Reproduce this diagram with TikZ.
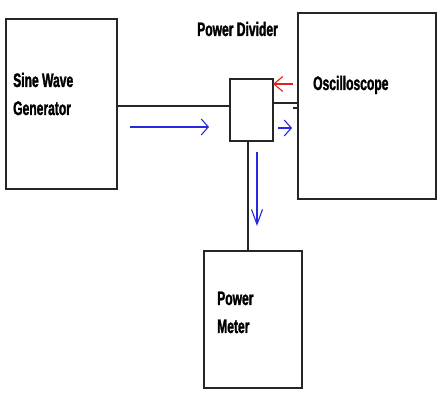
\documentclass[tikz,border=0pt]{standalone}
\usepackage{fontspec}
\setmainfont{Liberation Sans}
\newfontfamily\labfont[FakeStretch=0.62,FakeBold=1.5]{Liberation Sans Bold}
\usetikzlibrary{arrows.meta}
\definecolor{arrblue}{RGB}{40,40,225}
\definecolor{arrred}{RGB}{235,30,30}
\tikzset{
  box/.style={draw=black!85, line width=1.6pt, minimum width=#1, inner sep=0pt},
  wire/.style={draw=black!85, line width=1.6pt},
  lab/.style={anchor=base west, inner sep=0pt, font=\labfont\fontsize{19.5}{22}\selectfont},
  flow/.style={line width=1.2pt, -{Straight Barb[length=7pt,width=16pt,line width=1.1pt]}},
}
\begin{document}
\begin{tikzpicture}[x=1pt,y=-1pt]
\useasboundingbox (0,0) rectangle (448,393);
\node[box=111pt, minimum height=170pt] (swg) at (61.5,104) {};
\node[box=138pt, minimum height=186pt] (osc) at (367,106) {};
\node[box=43pt, minimum height=62pt] (div) at (251.5,110) {};
\node[box=98pt, minimum height=137pt] (pm) at (253,319.5) {};

\node[lab] (t1) at (13,87) {Sine Wave};
\node[lab] (t2) at (13,115) {Generator};
\node[lab] (t3) at (313,90) {Oscilloscope};
\node[lab] (t4) at (197,36) {Power Divider};
\node[lab] (t5) at (217,305) {Power};
\node[lab] (t6) at (217,333) {Meter};

\draw[wire] (swg.east |- 0,106) -- (div.west |- 0,106);
\draw[wire] (div.east |- 0,103) -- (osc.west |- 0,103);
\draw[wire] (293,108) -- (osc.west |- 0,108);
\draw[wire] (div.south -| 248,0) -- (pm.north -| 248,0);

\coordinate (a1s) at (130,127);
\coordinate (a1e) at (209,127);
\coordinate (a2s) at (278,128);
\coordinate (a2e) at (292,128);
\coordinate (a3s) at (257,152);
\coordinate (a3e) at (257,226);
\coordinate (a4s) at (293,84);
\coordinate (a4e) at (273,84);
\draw[flow, arrblue] (a1s) -- (a1e);
\draw[flow, arrblue] (a2s) -- (a2e);
\draw[arrblue, line width=1.2pt, -{Straight Barb[length=15pt,width=11pt,line width=1.1pt]}] (a3s) -- (a3e);
\draw[arrred, line width=1.2pt, -{Straight Barb[length=9pt,width=15pt,line width=1.1pt]}] (a4s) -- (a4e);
\end{tikzpicture}
\end{document}
